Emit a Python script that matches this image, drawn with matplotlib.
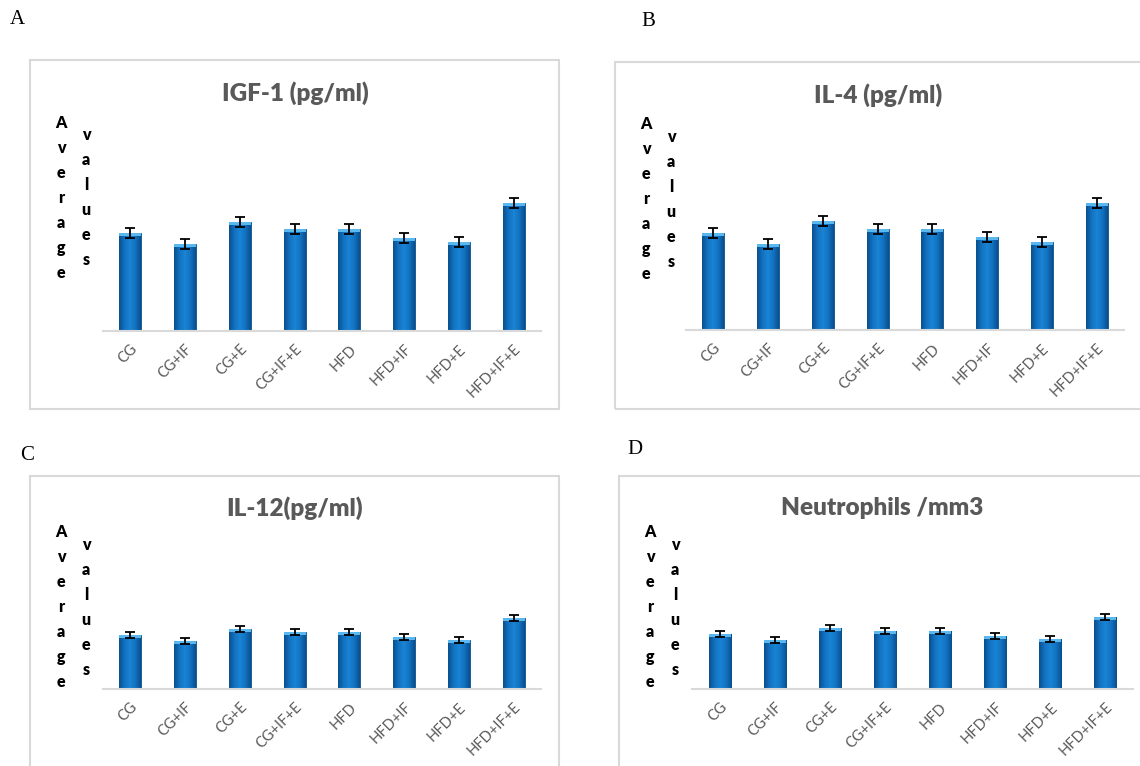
import numpy as np
import matplotlib
matplotlib.use("Agg")
import matplotlib.pyplot as plt
from matplotlib.patches import Rectangle
from matplotlib.colors import LinearSegmentedColormap

# groups and bar heights (no y scale shown)
groups = ['CG', 'CG+IF', 'CG+E', 'CG+IF+E', 'HFD', 'HFD+IF', 'HFD+E', 'HFD+IF+E']
igf1 = [98, 87, 109, 102, 102, 93, 89, 128]
il4 = [97, 86, 109, 101, 101, 93, 88, 127]
il12 = [54, 48, 60, 57, 57, 52, 49, 71]
neutro = [55, 49, 61, 58, 58, 53, 50, 72]
err_big = [5, 5, 5, 5, 5, 5, 5, 5]
err_small = [3, 3, 3, 3, 3, 3, 3, 3]

titles = ['IGF-1 (pg/ml)', 'IL-4 (pg/ml)', 'IL-12(pg/ml)', 'Neutrophils /mm3']
letters = ['A', 'B', 'C', 'D']

W, H = 1140, 766
fig = plt.figure(figsize=(W / 100, H / 100), dpi=100)

grey = '#595959'
bar_cmap = LinearSegmentedColormap.from_list(
    'bar', ['#0a4f8c', '#1272c2', '#1a84d4', '#1272c2', '#0a4f8c'])


def px_axes(x0, x1, ybase, ytop):
    return fig.add_axes([x0 / W, 1 - ybase / H, (x1 - x0) / W, (ybase - ytop) / H])


def frame(x0, y0, x1, y1):
    fig.patches.append(Rectangle((x0 / W, 1 - y1 / H), (x1 - x0) / W, (y1 - y0) / H,
                                 transform=fig.transFigure, fill=False,
                                 edgecolor='#d9d9d9', lw=1.5))


def vlabel(word, x, y0, step=25):
    for i, ch in enumerate(word):
        fig.text(x / W, 1 - (y0 + i * step) / H, ch, ha='center', va='center',
                 fontsize=11.5, fontweight='heavy', family='Lato', color='black')


def panel(vals, errs, title, letter, frame_box, ax_box, title_pos, letter_pos,
          lab_x, lab_y):
    frame(*frame_box)
    fig.text(letter_pos[0] / W, 1 - letter_pos[1] / H, letter, fontsize=15,
             family='Liberation Serif', ha='left', va='center')
    fig.text(title_pos[0] / W, 1 - title_pos[1] / H, title, fontsize=17.5,
             fontweight='heavy', family='Lato', color=grey, ha='center', va='center')
    vlabel('Average', lab_x[0], lab_y[0])
    vlabel('values', lab_x[1], lab_y[1])

    ax = px_axes(*ax_box)
    top = ax_box[2] - ax_box[3]
    x = np.arange(len(groups))
    bars = ax.bar(x, vals, width=0.4, color='#1272c2', edgecolor='#0a4f8c', lw=0.6,
                  zorder=2)
    grad = np.linspace(0, 1, 60).reshape(1, -1)
    for b in bars:
        im = ax.imshow(grad, cmap=bar_cmap, aspect='auto', zorder=2.5,
                       extent=[b.get_x(), b.get_x() + b.get_width(), 0, b.get_height()])
        im.set_clip_path(b)
    # light bevel on top of each bar
    ax.bar(x, [3] * len(x), width=0.4, bottom=np.array(vals) - 3,
           color='#5ab8ee', lw=0, zorder=3)
    ax.errorbar(x, vals, yerr=errs, fmt='none', ecolor='black', elinewidth=1.3,
                capsize=3.5, capthick=1.3, zorder=4)
    ax.set_xlim(-0.5, len(groups) - 0.5)
    ax.set_ylim(0, top)
    ax.set_xticks(x)
    ax.set_xticklabels(groups, rotation=45, ha='right', va='top',
                       rotation_mode='anchor', fontsize=10.5, color=grey,
                       family='Lato')
    ax.tick_params(axis='x', length=0, pad=8)
    ax.set_yticks([])
    for s in ['left', 'right', 'top']:
        ax.spines[s].set_visible(False)
    ax.spines['bottom'].set_color('#d9d9d9')
    ax.spines['bottom'].set_linewidth(1.5)
    ax.patch.set_alpha(0)


panel(igf1, err_big, titles[0], letters[0], (30, 60, 559, 409),
      (103, 541, 331, 115), (295, 93), (10, 20), (61, 86), (123, 135))
panel(il4, err_big, titles[1], letters[1], (615, 62, 1146, 409),
      (686, 1124, 330, 114), (878, 95), (641, 22), (646, 671), (124, 137))
panel(il12, err_small, titles[2], letters[2], (30, 476, 559, 772),
      (103, 541, 689, 525), (295, 508), (20, 455), (61, 86), (532, 545))
panel(neutro, err_small, titles[3], letters[3], (619, 476, 1146, 772),
      (692, 1133, 689, 525), (882, 508), (627, 449), (650, 675), (532, 545))

fig.savefig('out.png', dpi=100, facecolor='white')
